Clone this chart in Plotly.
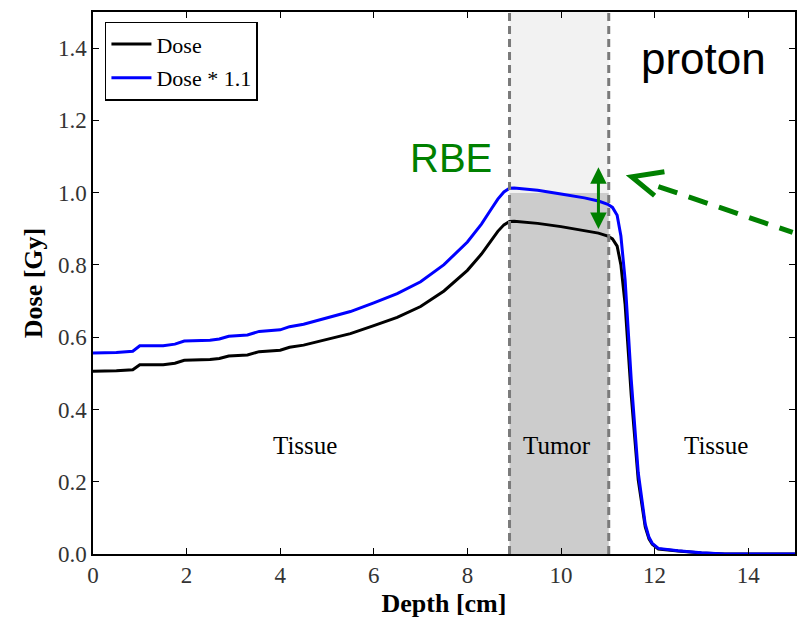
import plotly.graph_objects as go

depth = [0, 0.5, 0.85, 1.0, 1.5, 1.75, 1.95, 2.5, 2.7, 2.9, 3.3, 3.55, 4.0, 4.2, 4.5,
         5.0, 5.5, 6.0, 6.5, 7.0, 7.5, 8.0, 8.3, 8.5, 8.65, 8.78, 8.9, 9.0, 9.5, 10.0, 10.5,
         10.8, 11.0, 11.1, 11.2, 11.28, 11.37, 11.5, 11.65, 11.8, 11.88, 11.95, 12.08, 12.5, 13.0, 13.5, 15.0]
dose = [0.506, 0.507, 0.51, 0.524, 0.524, 0.528, 0.536, 0.538, 0.541, 0.548, 0.551, 0.56, 0.564, 0.572, 0.578,
        0.594, 0.61, 0.632, 0.655, 0.685, 0.728, 0.785, 0.83, 0.866, 0.893, 0.911, 0.92, 0.921, 0.915, 0.906, 0.896,
        0.888, 0.88, 0.872, 0.852, 0.8, 0.69, 0.44, 0.205, 0.075, 0.042, 0.027, 0.014, 0.008, 0.003, 0.0, 0.0]
rbe_factor = 1.1
dose_rbe = [d * rbe_factor for d in dose]

tumor_start, tumor_end = 8.9, 11.02
band_split = 1.0
region_labels = ["Tissue", "Tumor", "Tissue"]
region_label_x = [4.52, 9.91, 13.32]
region_label_y = 0.30

serif = "Liberation Serif"

fig = go.Figure()
fig.add_trace(go.Scatter(x=depth, y=dose, mode="lines", name="Dose", legendgroup="a",
                         line=dict(color="black", width=3)))
fig.add_trace(go.Scatter(x=depth, y=dose_rbe, mode="lines", name="Dose * 1.1", legendgroup="b",
                         line=dict(color="#0000ff", width=3)))

# tumor band
fig.add_shape(type="rect", x0=tumor_start, x1=tumor_end, y0=0, y1=band_split,
              fillcolor="#cccccc", line=dict(width=0), layer="below")
fig.add_shape(type="rect", x0=tumor_start, x1=tumor_end, y0=band_split, y1=1.5,
              fillcolor="#f2f2f2", line=dict(width=0), layer="below")
for xv in (tumor_start, tumor_end):
    fig.add_shape(type="line", x0=xv, x1=xv, y0=0, y1=1.5,
                  line=dict(color="#7a7a7a", width=3, dash="8px,5px"))

for t, xv in zip(region_labels, region_label_x):
    fig.add_annotation(x=xv, y=region_label_y, text=t, showarrow=False,
                       font=dict(family=serif, size=25, color="black"))

# RBE double arrow
fig.add_annotation(x=10.8, y=1.07, ax=10.8, ay=0.895, axref="x", ayref="y",
                   xref="x", yref="y", text="", showarrow=True,
                   arrowhead=2, arrowside="end+start", arrowsize=1.1,
                   arrowwidth=3, arrowcolor="#008000")
fig.add_annotation(x=7.65, y=1.095, text="RBE", showarrow=False, xanchor="center",
                   font=dict(family="Liberation Sans", size=40, color="#008000"))
fig.add_annotation(x=13.04, y=1.372, text="proton", showarrow=False, xanchor="center",
                   font=dict(family="Liberation Sans", size=44, color="black"))

# dashed green arrow
fig.add_shape(type="line", x0=12.08, y0=1.017, x1=14.95, y1=0.89,
              line=dict(color="#008000", width=5, dash="20px,12px"))
fig.add_shape(type="path", path="M 12.21 1.058 L 11.51 1.044 L 12.0 0.992",
              line=dict(color="#008000", width=5))

axis_common = dict(showgrid=False, zeroline=False, ticks="inside", ticklen=6,
                   tickwidth=1, tickcolor="black", mirror="ticks", showline=True,
                   linecolor="black", linewidth=1.5,
                   tickfont=dict(family=serif, size=23, color="#333333"))
fig.update_xaxes(range=[0, 15], tickvals=list(range(0, 15, 2)),
                 title=dict(text="<b>Depth [cm]</b>", font=dict(family=serif, size=26, color="black"), standoff=6),
                 **axis_common)
fig.update_yaxes(range=[0, 1.5], tickvals=[0, 0.2, 0.4, 0.6, 0.8, 1.0, 1.2, 1.4], tickformat=".1f",
                 title=dict(text="<b>Dose [Gy]</b>", font=dict(family=serif, size=26, color="black"), standoff=8),
                 **axis_common)

fig.update_layout(
    width=798, height=621,
    margin=dict(l=93, r=1, t=12, b=67),
    plot_bgcolor="white", paper_bgcolor="white",
    legend=dict(x=0.017, y=0.982, xanchor="left", yanchor="top",
                bordercolor="black", borderwidth=1.5, bgcolor="white",
                font=dict(family=serif, size=22, color="black"),
                itemwidth=40, tracegroupgap=2, entrywidth=190, entrywidthmode="pixels"),
)

fig.write_html("out.html")
